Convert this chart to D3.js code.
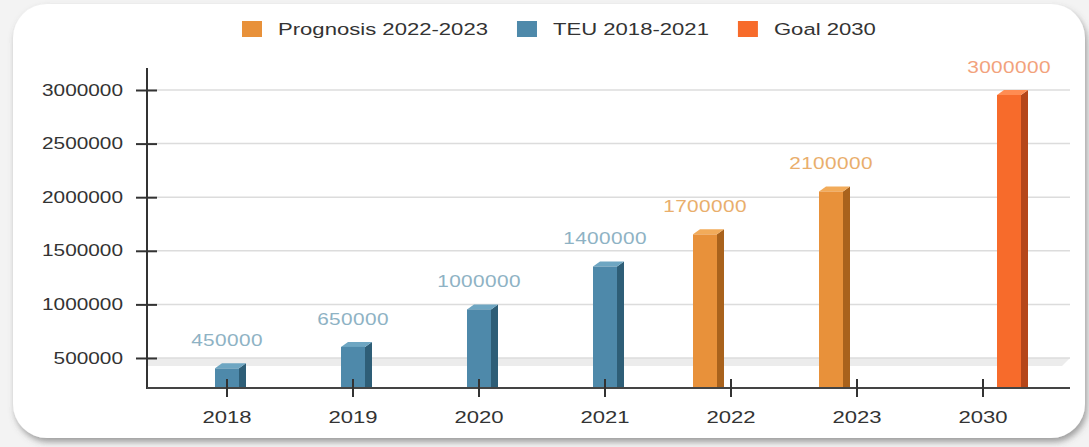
<!DOCTYPE html>
<html>
<head>
<meta charset="utf-8">
<script src="https://cdn.jsdelivr.net/npm/d3@7"></script>
<style>
  html, body { margin: 0; padding: 0; background: #f3f3f3; }
  svg { display: block; font-family: "Liberation Sans", Arial, sans-serif; }
</style>
</head>
<body>
<svg id="chart" width="1089" height="447"></svg>
<script>
const categories = ["2018", "2019", "2020", "2021", "2022", "2023", "2030"];
const seriesNames = ["Prognosis 2022-2023", "TEU 2018-2021", "Goal 2030"];
const prognosis = [null, null, null, null, 1700000, 2100000, null];
const teu = [450000, 650000, 1000000, 1400000, null, null, null];
const goal = [null, null, null, null, null, null, 3000000];
const yTicks = [500000, 1000000, 1500000, 2000000, 2500000, 3000000];

const seriesValues = [prognosis, teu, goal];
const front = ["#e8913a", "#4e89aa", "#f76b2b"];
const side = ["#a9621c", "#2e5e77", "#b5461a"];
const topC = ["#f2ab5a", "#6ea6c2", "#ff8c52"];
const labelC = ["#e9ae6c", "#8eb2c4", "#f2a27c"];

const S = 1.3; // horizontal text stretch
const svg = d3.select("#chart");

// shadow filter
const defs = svg.append("defs");
const f = defs.append("filter").attr("id", "sh").attr("x", "-5%").attr("y", "-5%").attr("width", "110%").attr("height", "115%");
f.append("feDropShadow").attr("dx", 2).attr("dy", 4).attr("stdDeviation", 3).attr("flood-color", "#555").attr("flood-opacity", 0.55);

svg.append("rect").attr("x", 13).attr("y", 4).attr("width", 1072).attr("height", 434)
  .attr("rx", 34).attr("fill", "#ffffff").attr("filter", "url(#sh)");

const x = d3.scaleBand().domain(categories).range([164, 1046]).padding(0);
const xs = d3.scaleBand().domain(seriesNames).range([-39, 39]);
const y = d3.scaleLinear().domain([220000, 3000000]).range([388, 90]);

const left = 147, right = 1070, base = y.range()[0];

// floor band
svg.append("polygon")
  .attr("points", `${left},${y(500000)} ${right},${y(500000)} ${right - 8},${y(500000) + 8} ${left},${y(500000) + 8}`)
  .attr("fill", "#ececec");

// grid
svg.append("g").selectAll("line").data(yTicks).join("line")
  .attr("x1", left).attr("x2", right)
  .attr("y1", d => y(d)).attr("y2", d => y(d))
  .attr("stroke", "#dcdcdc").attr("stroke-width", 1.5);

function stretchText(sel) {
  sel.attr("transform", function () {
    const t = d3.select(this);
    return `translate(${t.attr("data-x")},${t.attr("data-y")}) scale(${S},1)`;
  });
}

// y axis
const yAxis = svg.append("g").attr("transform", `translate(${left},0)`)
  .call(d3.axisLeft(y).tickValues(yTicks).tickSize(11).tickSizeOuter(0).tickFormat(d3.format("d")));
yAxis.select(".domain").remove();
yAxis.selectAll(".tick line").attr("x2", -11).attr("x1", 10).attr("stroke", "#333").attr("stroke-width", 2);
yAxis.selectAll(".tick text").remove();
svg.append("line").attr("x1", left).attr("x2", left).attr("y1", 68).attr("y2", base + 1)
  .attr("stroke", "#333").attr("stroke-width", 2);
svg.append("g").selectAll("text").data(yTicks).join("text")
  .attr("data-x", 123).attr("data-y", d => y(d))
  .attr("text-anchor", "end").attr("dominant-baseline", "central")
  .attr("font-size", 16).attr("fill", "#333").text(d => d3.format("d")(d))
  .call(stretchText);

// bars
const W = 24, DX = 7, DY = 5;
const barData = [];
seriesValues.forEach((arr, si) => arr.forEach((v, ci) => {
  if (v != null) barData.push({ si, ci, v });
}));
const bars = svg.append("g").selectAll("g").data(barData).join("g");
bars.each(function (d) {
  const g = d3.select(this);
  const cx = x(categories[d.ci]) + x.bandwidth() / 2 + xs(seriesNames[d.si]) + xs.bandwidth() / 2;
  const x0 = cx - W / 2, x1 = cx + W / 2;
  const yt = y(d.v);
  g.append("polygon").attr("points", `${x1},${yt + DY} ${x1 + DX},${yt} ${x1 + DX},${base} ${x1},${base}`).attr("fill", side[d.si]);
  g.append("polygon").attr("points", `${x0},${yt + DY} ${x0 + DX},${yt} ${x1 + DX},${yt} ${x1},${yt + DY}`).attr("fill", topC[d.si]);
  g.append("rect").attr("x", x0).attr("y", yt + DY).attr("width", W).attr("height", base - yt - DY).attr("fill", front[d.si]);
  g.append("text").attr("data-x", cx).attr("data-y", yt - 23)
    .attr("text-anchor", "middle").attr("dominant-baseline", "central")
    .attr("font-size", 16).attr("letter-spacing", 0.3).attr("fill", labelC[d.si]).text(d.v)
    .call(stretchText);
});

// x axis
svg.append("line").attr("x1", left).attr("x2", right).attr("y1", base).attr("y2", base)
  .attr("stroke", "#444").attr("stroke-width", 2);
const xAxis = svg.append("g").attr("transform", `translate(0,${base})`)
  .call(d3.axisBottom(x).tickSize(9).tickSizeOuter(0));
xAxis.select(".domain").remove();
xAxis.selectAll(".tick line").attr("y1", -9).attr("y2", 9).attr("stroke", "#333").attr("stroke-width", 2);
xAxis.selectAll(".tick text").remove();
svg.append("g").selectAll("text").data(categories).join("text")
  .attr("data-x", d => x(d) + x.bandwidth() / 2).attr("data-y", 417)
  .attr("text-anchor", "middle").attr("dominant-baseline", "central")
  .attr("font-size", 17).attr("fill", "#333").text(d => d)
  .call(stretchText);

// legend
const lg = svg.append("g");
let lx = 242;
seriesNames.forEach((name, i) => {
  lg.append("rect").attr("x", lx).attr("y", 21).attr("width", 20).attr("height", 16).attr("fill", front[i]);
  lx += 20 + 16;
  const t = lg.append("text").attr("data-x", lx).attr("data-y", 29)
    .attr("dominant-baseline", "central").attr("font-size", 17).attr("fill", "#333").text(name)
    .call(stretchText);
  lx += t.node().getComputedTextLength() * S + 29;
});
</script>
</body>
</html>
